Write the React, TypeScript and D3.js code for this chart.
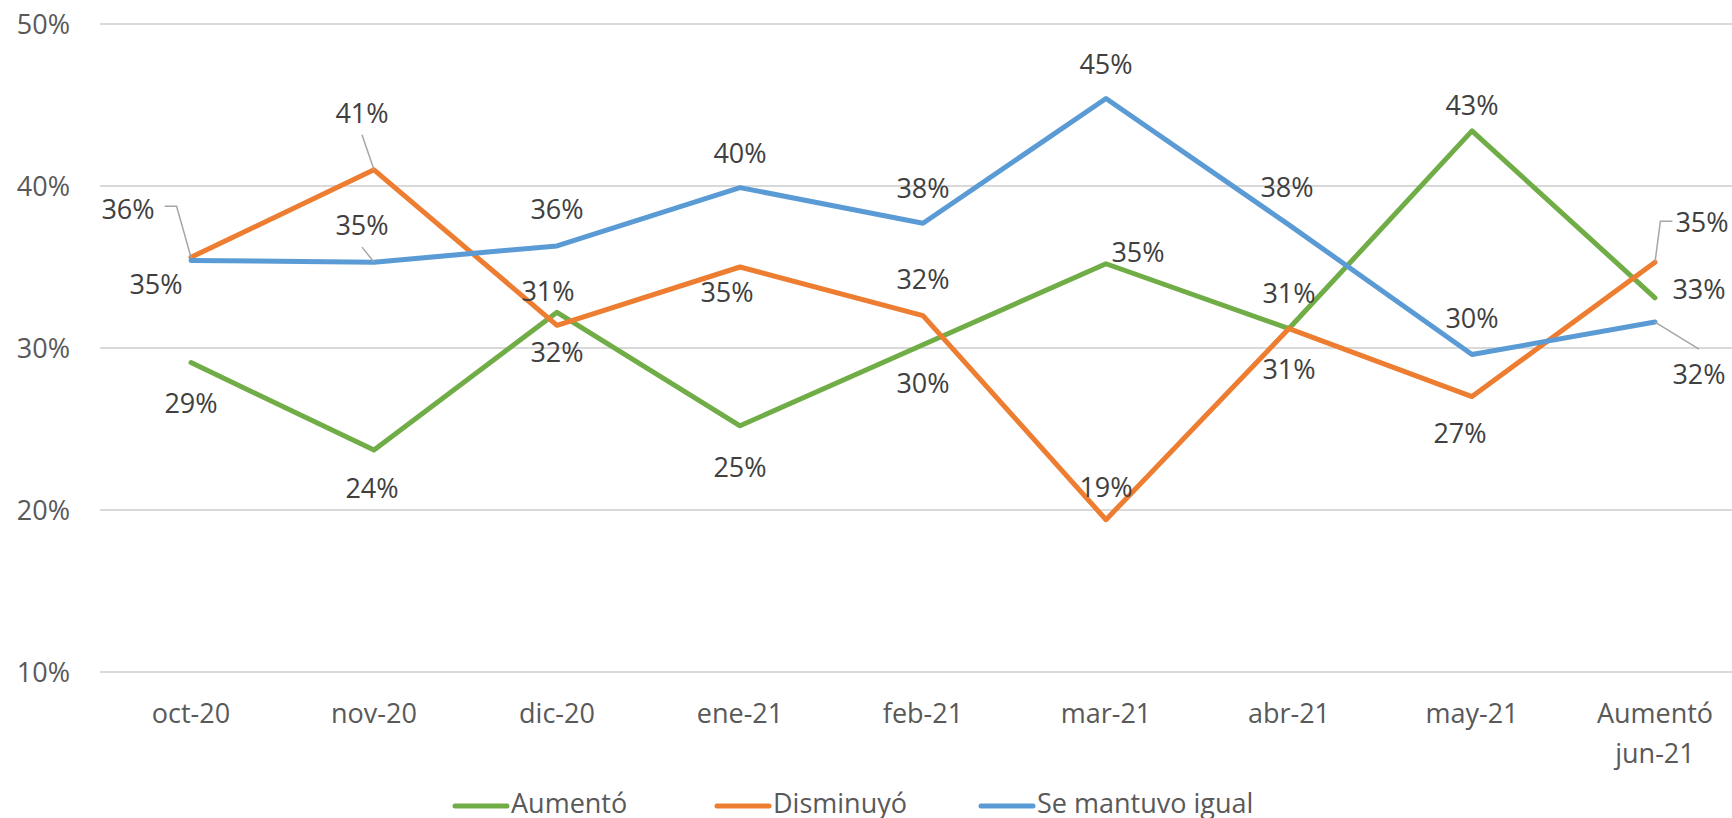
import React, { useEffect, useRef } from 'react';
import * as d3 from 'd3';

// values in percent
const categories = ['oct-20', 'nov-20', 'dic-20', 'ene-21', 'feb-21', 'mar-21', 'abr-21', 'may-21', 'Aumentó jun-21'];
const aumento = [29.1, 23.7, 32.2, 25.2, 30.2, 35.2, 31.2, 43.4, 33.1];
const disminuyo = [35.6, 41.0, 31.4, 35.0, 32.0, 19.4, 31.2, 27.0, 35.3];
const igual = [35.4, 35.3, 36.3, 39.9, 37.7, 45.4, 37.6, 29.6, 31.6];
const yTicks = [10, 20, 30, 40, 50];
const seriesNames = ['Aumentó', 'Disminuyó', 'Se mantuvo igual'];
const seriesColors = ['#70ad47', '#ed7d31', '#5b9bd5'];

// where each data label sits relative to its point: [dx, dy, leader]
type LabelPos = [number, number, string?];
const aumentoLabels: LabelPos[] = [[0, 40], [-2, 38], [0, 40], [0, 41], [0, 38], [32, -12], [0, -36], [0, -26], [44, -9]];
const disminuyoLabels: LabelPos[] = [[-63, -48, 'elbowRight'], [-12, -57, 'bottom'], [-9, -34], [-13, 25], [0, -37], [0, -33], [0, 40], [-12, 36], [47, -40, 'elbowLeft']];
const igualLabels: LabelPos[] = [[-35, 23], [-12, -37, 'bottom'], [0, -37], [0, -35], [0, -35], [0, -35], [-2, -38], [0, -36], [44, 52, 'top']];

const legendStarts = [455, 717, 981];

const W = 1732;
const H = 818;
const FONT = '"Open Sans", "Noto Sans", sans-serif';

const App: React.FC = () => {
  const svgRef = useRef<SVGSVGElement>(null);

  useEffect(() => {
    if (!svgRef.current) return;
    const svg = d3.select(svgRef.current);
    svg.selectAll('*').remove();

    const x = d3.scalePoint<string>().domain(categories).range([99.5, 1746.5]).padding(0.5);
    const y = d3.scaleLinear().domain([10, 50]).range([672, 24]);

    // gridlines + y labels
    svg.append('g')
      .selectAll('line')
      .data(yTicks)
      .enter()
      .append('line')
      .attr('x1', 100)
      .attr('x2', 1746)
      .attr('y1', d => y(d))
      .attr('y2', d => y(d))
      .attr('stroke', '#d9d9d9')
      .attr('stroke-width', 2);

    svg.append('g')
      .selectAll('text')
      .data(yTicks)
      .enter()
      .append('text')
      .attr('x', 70)
      .attr('y', d => y(d) + 10)
      .attr('text-anchor', 'end')
      .attr('fill', '#595959')
      .attr('font-size', 27)
      .attr('font-family', FONT)
      .text(d => `${d}%`);

    // x labels, wrapped when too wide for the band
    const xLab = svg.append('g');
    categories.forEach(c => {
      const t = xLab.append('text')
        .attr('x', x(c)!)
        .attr('y', 723)
        .attr('text-anchor', 'middle')
        .attr('fill', '#595959')
        .attr('font-size', 27)
        .attr('font-family', FONT)
        .text(c);
      const node = t.node() as SVGTextElement;
      if (node.getComputedTextLength() > x.step() - 10 && c.includes(' ')) {
        const words = c.split(' ');
        t.text('');
        words.forEach((w, i) => {
          t.append('tspan').attr('x', x(c)!).attr('dy', i === 0 ? 0 : 40).text(w);
        });
      }
    });

    const allSeries = [aumento, disminuyo, igual];
    const allLabels = [aumentoLabels, disminuyoLabels, igualLabels];

    const line = d3.line<number>()
      .x((d, i) => x(categories[i])!)
      .y(d => y(d));

    allSeries.forEach((s, si) => {
      svg.append('path')
        .datum(s)
        .attr('d', line)
        .attr('fill', 'none')
        .attr('stroke', seriesColors[si])
        .attr('stroke-width', 5)
        .attr('stroke-linejoin', 'round')
        .attr('stroke-linecap', 'round');
    });

    // data labels with leader lines
    allSeries.forEach((s, si) => {
      s.forEach((v, i) => {
        const px = x(categories[i])!;
        const py = y(v);
        const [dx, dy, leader] = allLabels[si][i];
        const lx = px + dx;
        const ly = py + dy;
        const t = svg.append('text')
          .attr('x', lx)
          .attr('y', ly + 10)
          .attr('text-anchor', 'middle')
          .attr('fill', '#404040')
          .attr('font-size', 27)
          .attr('font-family', FONT)
          .text(`${Math.round(v)}%`);
        const half = (t.node() as SVGTextElement).getComputedTextLength() / 2;
        let pts: [number, number][] | null = null;
        if (leader === 'bottom') pts = [[lx, ly + 22], [px, py]];
        if (leader === 'top') pts = [[lx, ly - 25], [px, py]];
        if (leader === 'elbowRight') pts = [[lx + half + 10, ly - 3], [lx + half + 22, ly - 3], [px, py]];
        if (leader === 'elbowLeft') pts = [[lx - half - 3, ly - 1], [lx - half - 15, ly - 1], [px, py]];
        if (pts) {
          svg.append('path')
            .attr('d', d3.line()(pts))
            .attr('fill', 'none')
            .attr('stroke', '#a6a6a6')
            .attr('stroke-width', 1.5);
        }
      });
    });

    // legend
    seriesNames.forEach((n, i) => {
      const lx = legendStarts[i];
      svg.append('line')
        .attr('x1', lx)
        .attr('x2', lx + 52)
        .attr('y1', 806)
        .attr('y2', 806)
        .attr('stroke', seriesColors[i])
        .attr('stroke-width', 5)
        .attr('stroke-linecap', 'round');
      svg.append('text')
        .attr('x', lx + 56)
        .attr('y', 813)
        .attr('fill', '#595959')
        .attr('font-size', 27)
        .attr('font-family', FONT)
        .text(n);
    });
  }, []);

  return (
    <div style={{ position: 'absolute', left: 0, top: 0, background: '#fff' }}>
      <svg ref={svgRef} width={W} height={H} style={{ display: 'block', overflow: 'hidden' }}></svg>
    </div>
  );
};

export default App;
